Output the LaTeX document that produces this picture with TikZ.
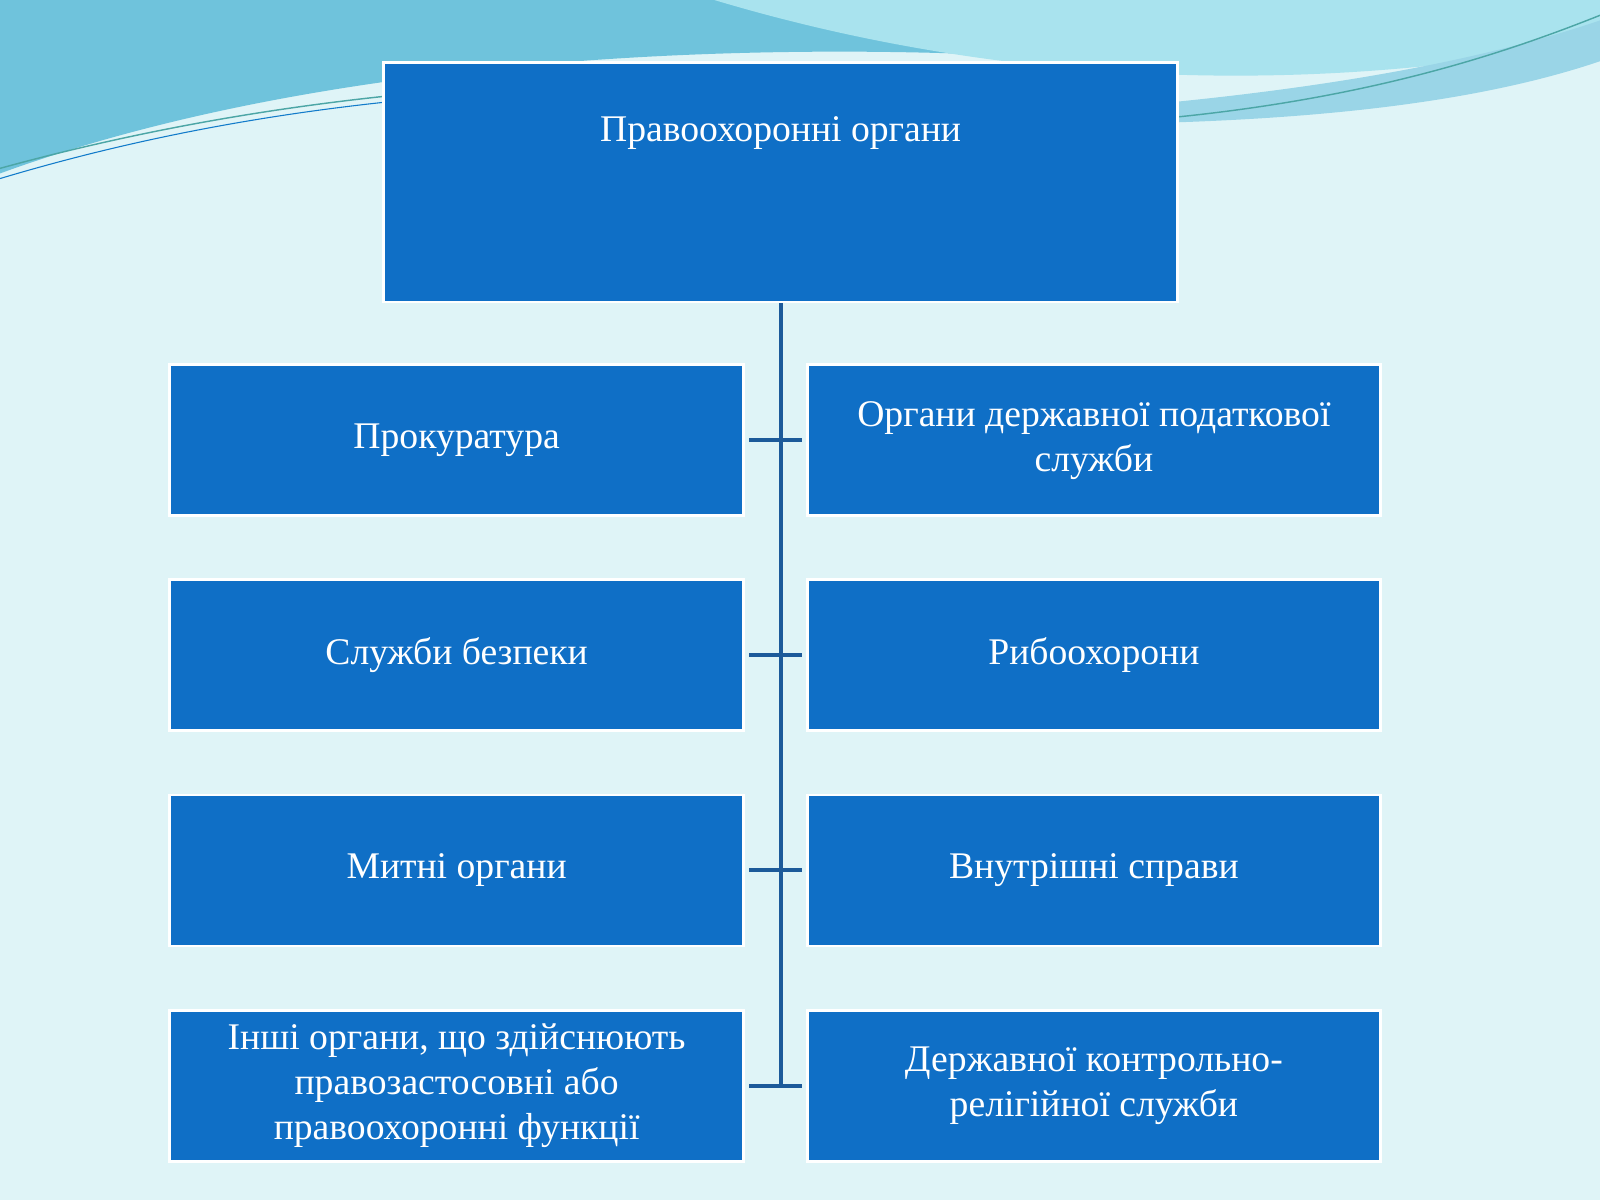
\documentclass[tikz,border=0pt]{standalone}
\usepackage{fontspec}
\setmainfont{Liberation Serif}
\usetikzlibrary{calc}
\definecolor{bg}{HTML}{DFF4F7}
\definecolor{boxc}{HTML}{0F6FC6}
\definecolor{linec}{HTML}{1C5A9A}
\definecolor{waveA}{HTML}{6FC3DC}
\definecolor{waveB}{HTML}{A9E3EE}
\begin{document}
\begin{tikzpicture}[x=0.02cm,y=-0.02cm,
  box/.style={fill=boxc,draw=white,line width=1.5pt,text=white,align=center,font=\fontsize{21}{25}\selectfont,inner sep=0pt},
  conn/.style={draw=linec,line width=2.2pt}]
\useasboundingbox (0,0) rectangle (1568,1176);
\fill[bg] (0,0) rectangle (1568,1176);
% waves
\fill[waveA] (0,0) -- (0,170) .. controls (300,60) and (700,40) .. (1000,55) .. controls (1250,70) and (1450,40) .. (1568,10) -- (1568,0) -- cycle;
\fill[waveB] (700,0) .. controls (900,60) and (1200,110) .. (1568,40) -- (1568,0) -- cycle;
\fill[waveA!70!white] (1150,100) .. controls (1350,80) and (1480,50) .. (1568,20) -- (1568,60) .. controls (1450,100) and (1300,115) .. (1150,120) -- cycle;
\draw[teal!70,line width=0.8pt] (0,165) .. controls (200,110) and (400,85) .. (600,80);
\draw[cyan!60!blue,line width=0.6pt] (0,175) .. controls (200,115) and (400,90) .. (620,85);
\draw[teal!70,line width=0.8pt] (1150,115) .. controls (1350,95) and (1480,50) .. (1568,15);
% nodes
\node[box,minimum width=15.56cm,minimum height=4.7cm] (top) at (765,178.5) {Правоохоронні органи\\[1.2cm]};
\foreach \n/\y/\lt/\rt in {1/431.5/{Прокуратура}/{Органи державної податкової\\служби},
  2/642/{Служби безпеки}/{Рибоохорони},
  3/853/{Митні органи}/{Внутрішні справи},
  4/1064/{Інші органи, що здійснюють\\правозастосовні або\\правоохоронні функції}/{Державної контрольно-\\релігійної служби}}{
  \node[box,minimum width=11.26cm,minimum height=2.96cm] (l\n) at (447.5,\y) {\lt};
  \node[box,minimum width=11.24cm,minimum height=2.96cm] (r\n) at (1072,\y) {\rt};
}
\coordinate (bot) at (765,1064);
\draw[conn] (top.south) -- (bot);
\foreach \n in {1,2,3,4}{\draw[conn] ($(l\n.east)+(4,0)$) -- ($(r\n.west)+(-4,0)$);}
\end{tikzpicture}
\end{document}
